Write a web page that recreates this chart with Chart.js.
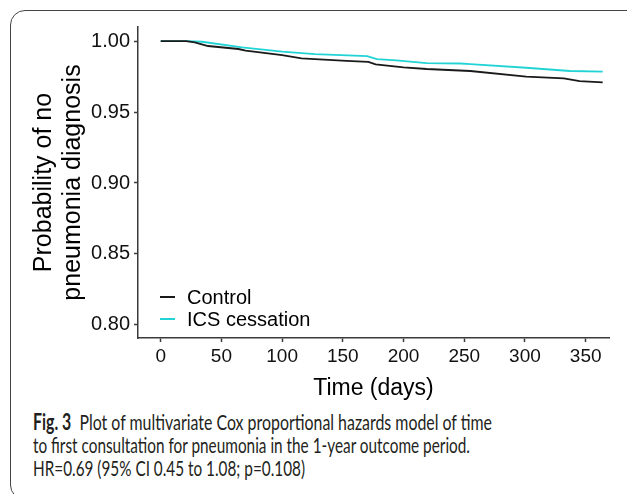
<!DOCTYPE html>
<html><head><meta charset="utf-8">
<script src="https://cdn.jsdelivr.net/npm/chart.js@4"></script>
<style>
html,body{margin:0;padding:0;background:#fff;width:627px;height:494px;overflow:hidden;}
#wrap{position:relative;width:627px;height:494px;}
#frame{position:absolute;left:10px;top:10px;width:700px;height:490px;border:1.5px solid #444;border-radius:15px;box-sizing:border-box;pointer-events:none;}
canvas{position:absolute;left:0;top:0;}
.cap{position:absolute;left:33px;font-family:Lato,"Open Sans",sans-serif;font-size:22px;line-height:23px;color:#231f20;white-space:nowrap;transform-origin:0 0;}
</style></head>
<body><div id="wrap">
<canvas id="c" width="627" height="402"></canvas>
<div class="cap" data-w="459" style="top:410px"><b>Fig. 3</b>&nbsp; Plot of multivariate Cox proportional hazards model of time</div>
<div class="cap" data-w="437" style="top:433px">to first consultation for pneumonia in the 1-year outcome period.</div>
<div class="cap" data-w="272" style="top:456px">HR=0.69 (95% CI 0.45 to 1.08; p=0.108)</div>
<div id="frame"></div>
</div>
<script>
// Data
const seriesLabels = ['Control', 'ICS cessation'];
const controlDays = [0, 21, 28, 39, 64, 70, 100, 116, 127, 153, 171, 177, 200, 219, 255, 301, 332, 345, 364];
const controlSurv = [1.000, 1.000, 0.9991, 0.9965, 0.9944, 0.9932, 0.9901, 0.9878, 0.9873, 0.9861, 0.9854, 0.9836, 0.9815, 0.9803, 0.9789, 0.9749, 0.9737, 0.9718, 0.9709];
const icsDays = [0, 21, 34, 67, 100, 127, 170, 178, 194, 219, 247, 255, 301, 337, 364];
const icsSurv = [1.000, 1.000, 0.9995, 0.9956, 0.9925, 0.9908, 0.9894, 0.9873, 0.9864, 0.9845, 0.9842, 0.9838, 0.9812, 0.9789, 0.9784];
const xTicks = [0, 50, 100, 150, 200, 250, 300, 350];
const yTicks = [0.80, 0.85, 0.90, 0.95, 1.00];

const toPts = (xs, ys) => xs.map((x, i) => ({x: x, y: ys[i]}));
const axisCol = '#3a3a3a';

const insideLegend = {
  id: 'insideLegend',
  afterDatasetsDraw(chart) {
    const ctx = chart.ctx, a = chart.chartArea;
    ctx.save();
    ctx.font = '20px "Liberation Sans", Arial, sans-serif';
    ctx.textBaseline = 'middle';
    ctx.textAlign = 'left';
    chart.data.datasets.forEach((ds, i) => {
      const y = a.bottom - 41 + i * 22;
      ctx.strokeStyle = ds.borderColor; ctx.lineWidth = 2;
      ctx.beginPath(); ctx.moveTo(a.left + 22, y); ctx.lineTo(a.left + 37, y); ctx.stroke();
      ctx.fillStyle = '#000';
      ctx.fillText(ds.label, a.left + 49, y + 1);
    });
    ctx.restore();
  }
};

new Chart(document.getElementById('c'), {
  type: 'line',
  data: {
    datasets: [
      {label: seriesLabels[0], data: toPts(controlDays, controlSurv), borderColor: '#1a1a1a', borderWidth: 1.8, pointRadius: 0, tension: 0, fill: false},
      {label: seriesLabels[1], data: toPts(icsDays, icsSurv), borderColor: '#22d3d6', borderWidth: 1.8, pointRadius: 0, tension: 0, fill: false}
    ]
  },
  options: {
    responsive: false,
    animation: false,
    devicePixelRatio: 1,
    layout: {padding: {top: 27, right: 18, left: 0, bottom: 0}},
    plugins: {legend: {display: false}, tooltip: {enabled: false}},
    scales: {
      x: {
        type: 'linear', min: -18.7, max: 369.2,
        afterBuildTicks: s => { s.ticks = xTicks.map(v => ({value: v})); },
        afterFit: s => { s.height = 64; },
        ticks: {color: '#111', font: {family: '"Liberation Sans", Arial, sans-serif', size: 19}, padding: 3, maxRotation: 0, autoSkip: false},
        grid: {drawOnChartArea: false, drawTicks: true, tickLength: 4, tickColor: axisCol, tickWidth: 1.5},
        border: {color: axisCol, width: 1.5},
        title: {display: true, text: 'Time (days)', color: '#000', font: {family: '"Liberation Sans", Arial, sans-serif', size: 23, lineHeight: 1.2}, padding: {top: 0, bottom: 0}}
      },
      y: {
        type: 'linear', min: 0.7908, max: 1.0099,
        afterBuildTicks: s => { s.ticks = yTicks.map(v => ({value: v})); },
        afterFit: s => { s.width = 138; },
        ticks: {color: '#111', font: {family: '"Liberation Sans", Arial, sans-serif', size: 20}, padding: 4, callback: v => Number(v).toFixed(2)},
        grid: {drawOnChartArea: false, drawTicks: true, tickLength: 4, tickColor: axisCol, tickWidth: 1.5},
        border: {color: axisCol, width: 1.5},
        title: {display: true, text: ['Probability of no', 'pneumonia diagnosis'], color: '#000', font: {family: '"Liberation Sans", Arial, sans-serif', size: 25, lineHeight: 1.16}, padding: {top: 30, bottom: 0}}
      }
    }
  },
  plugins: [insideLegend]
});

document.querySelectorAll('.cap').forEach(el => {
  const w = el.getBoundingClientRect().width;
  const t = Number(el.dataset.w);
  el.style.transform = 'scaleX(' + (t / w) + ')';
});
</script>
</body></html>
